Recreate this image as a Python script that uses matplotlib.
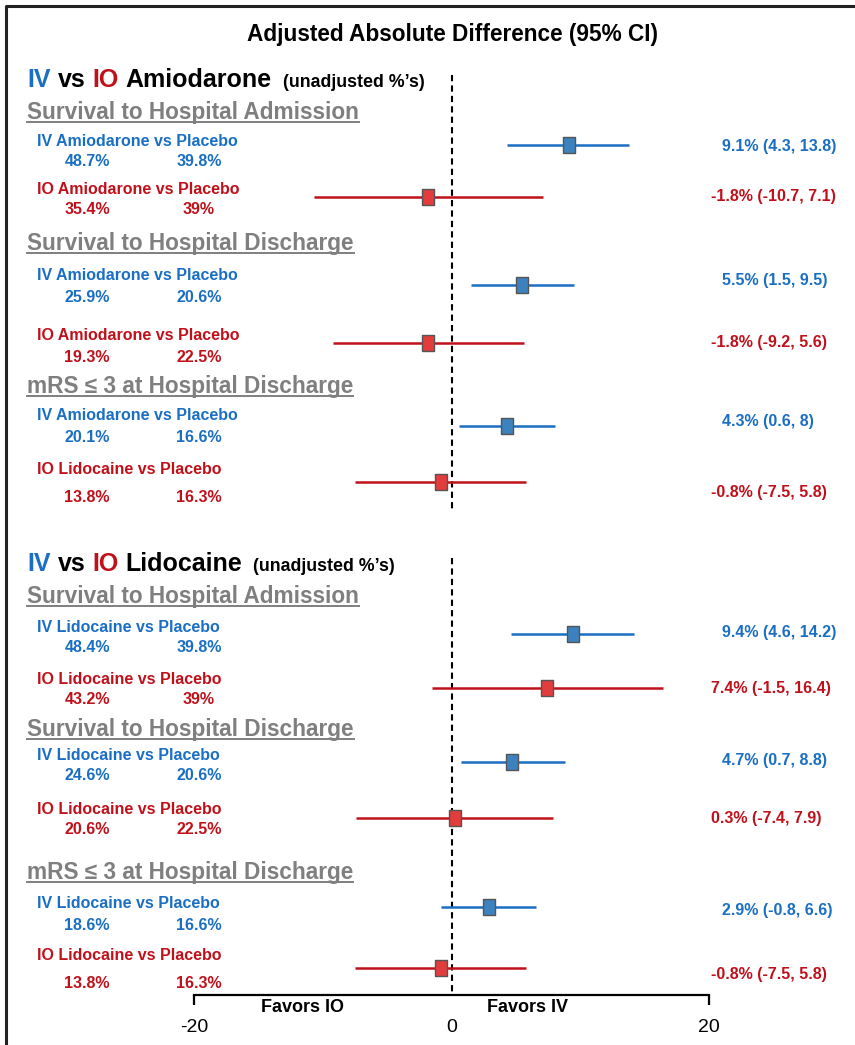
import matplotlib.pyplot as plt
from matplotlib.lines import Line2D

plt.rcParams['font.family'] = ['Liberation Sans', 'DejaVu Sans']

# colours
BLUE = '#1a6fc4'
RED = '#c0111b'
BLUE_BOX = '#3c82be'
RED_BOX = '#e23c3c'
GRAY = '#7f7f7f'

# data: one entry per comparison row (top to bottom)
comparisons = ['IV Amiodarone vs Placebo', 'IO Amiodarone vs Placebo',
               'IV Amiodarone vs Placebo', 'IO Amiodarone vs Placebo',
               'IV Amiodarone vs Placebo', 'IO Lidocaine vs Placebo',
               'IV Lidocaine vs Placebo', 'IO Lidocaine vs Placebo',
               'IV Lidocaine vs Placebo', 'IO Lidocaine vs Placebo',
               'IV Lidocaine vs Placebo', 'IO Lidocaine vs Placebo']
route = ['IV', 'IO'] * 6
drug_pct = ['48.7%', '35.4%', '25.9%', '19.3%', '20.1%', '13.8%',
            '48.4%', '43.2%', '24.6%', '20.6%', '18.6%', '13.8%']
placebo_pct = ['39.8%', '39%', '20.6%', '22.5%', '16.6%', '16.3%',
               '39.8%', '39%', '20.6%', '22.5%', '16.6%', '16.3%']
estimate = [9.1, -1.8, 5.5, -1.8, 4.3, -0.8, 9.4, 7.4, 4.7, 0.3, 2.9, -0.8]
ci_low = [4.3, -10.7, 1.5, -9.2, 0.6, -7.5, 4.6, -1.5, 0.7, -7.4, -0.8, -7.5]
ci_high = [13.8, 7.1, 9.5, 5.6, 8, 5.8, 14.2, 16.4, 8.8, 7.9, 6.6, 5.8]

outcomes = ['Survival to Hospital Admission', 'Survival to Hospital Discharge',
            'mRS \u2264 3 at Hospital Discharge'] * 2
drugs = ['Amiodarone', 'Lidocaine']

# layout (pixel rows from the top of the figure)
W, H = 855, 1045
row_y = [145, 197, 285, 343, 426, 482, 634, 688, 762, 818, 907, 968]
name_y = [141, 189, 276, 336, 416, 470, 627, 679, 755, 809, 903, 956]
pct_y = [162, 210, 297, 357, 438, 497, 648, 700, 776, 830, 925, 983]
result_y = [146, 196, 280, 342, 421, 493, 633, 688, 761, 819, 911, 975]
outcome_base = [119, 250, 393, 603, 736, 879]
drug_base = [87, 571]


def fx(px):
    return px / W


def fy(py):
    return 1 - py / H


fig = plt.figure(figsize=(W / 100, H / 100), dpi=100)

# forest plot axes: x from -20 to 20, y in pixel rows
ax = fig.add_axes([fx(194), fy(995), fx(709) - fx(194), fy(60) - fy(995)])
ax.set_xlim(-20, 20)
ax.set_ylim(995, 60)
for side in ['top', 'left', 'right']:
    ax.spines[side].set_visible(False)
ax.spines['bottom'].set_linewidth(1.6)
ax.set_yticks([])
ax.set_xticks([-20, 0, 20])
ax.set_xticklabels(['-20', '0', '20'])
ax.tick_params(axis='x', length=7, width=1.6, pad=10, labelsize=14)
ax.xaxis.get_major_ticks()[1].tick1line.set_visible(False)
ax.patch.set_alpha(0)

# zero reference line (two segments, one per drug block)
ax.vlines(0, 75, 510, colors='black', linestyles=(0, (3, 2)), lw=1.5)
ax.vlines(0, 558, 995, colors='black', linestyles=(0, (3, 2)), lw=1.5)

box = [(-0.38, -0.5), (0.38, -0.5), (0.38, 0.5), (-0.38, 0.5), (-0.38, -0.5)]
for i in range(len(estimate)):
    c = BLUE if route[i] == 'IV' else RED
    fc = BLUE_BOX if route[i] == 'IV' else RED_BOX
    ax.hlines(row_y[i], ci_low[i], ci_high[i], colors=c, lw=1.8)
    ax.plot(estimate[i], row_y[i], marker=box, ms=11.5, mfc=fc, mec='#555555',
            mew=1, ls='none', zorder=3)
    # left text: comparison name and unadjusted percentages
    fig.text(fx(37), fy(name_y[i]), comparisons[i], color=c, fontsize=11.5,
             fontweight='bold', va='center', ha='left')
    fig.text(fx(87), fy(pct_y[i]), drug_pct[i], color=c, fontsize=11.5,
             fontweight='bold', va='center', ha='center')
    fig.text(fx(199), fy(pct_y[i]), placebo_pct[i], color=c, fontsize=11.5,
             fontweight='bold', va='center', ha='center')
    # right text: estimate (CI)
    lbl = f'{estimate[i]:g}% ({ci_low[i]:g}, {ci_high[i]:g})'
    fig.text(fx(722 if route[i] == 'IV' else 711), fy(result_y[i]), lbl,
             color=c, fontsize=11.5, fontweight='bold', va='center', ha='left')

ax.text(-11.6, 1008, 'Favors IO', fontsize=13, fontweight='bold',
        ha='center', va='center', clip_on=False)
ax.text(5.9, 1008, 'Favors IV', fontsize=13, fontweight='bold',
        ha='center', va='center', clip_on=False)

fig.text(fx(452), fy(35), 'Adjusted Absolute Difference (95% CI)',
         fontsize=16.3, fontweight='bold', ha='center', va='center')

renderer = fig.canvas.get_renderer()

# drug headers: "IV vs IO Drug (unadjusted %'s)"
for d, base in zip(drugs, drug_base):
    pieces = [('IV', BLUE, 18, 7), ('vs', 'black', 18, 7), ('IO', RED, 18, 7),
              (d, 'black', 18, 11), ("(unadjusted %\u2019s)", 'black', 12.8, 0)]
    x = 27
    for txt, col, size, gap in pieces:
        t = fig.text(fx(x), fy(base), txt, color=col, fontsize=size,
                     fontweight='bold', ha='left', va='baseline')
        bb = t.get_window_extent(renderer)
        x = bb.x1 + gap

# outcome sub-headers, underlined
for name, base in zip(outcomes, outcome_base):
    t = fig.text(fx(27), fy(base), name, color=GRAY, fontsize=16.3,
                 fontweight='bold', ha='left', va='baseline')
    bb = t.get_window_extent(renderer)
    fig.lines.append(Line2D([bb.x0 / W, bb.x1 / W], [fy(base + 3)] * 2,
                            transform=fig.transFigure, color=GRAY, lw=1.4))

# partial frame (left and top edges)
fig.lines.append(Line2D([fx(6), fx(6), 1], [0, fy(6), fy(6)],
                        transform=fig.transFigure, color='#222222', lw=2.2))

fig.savefig('out.png', dpi=100)
